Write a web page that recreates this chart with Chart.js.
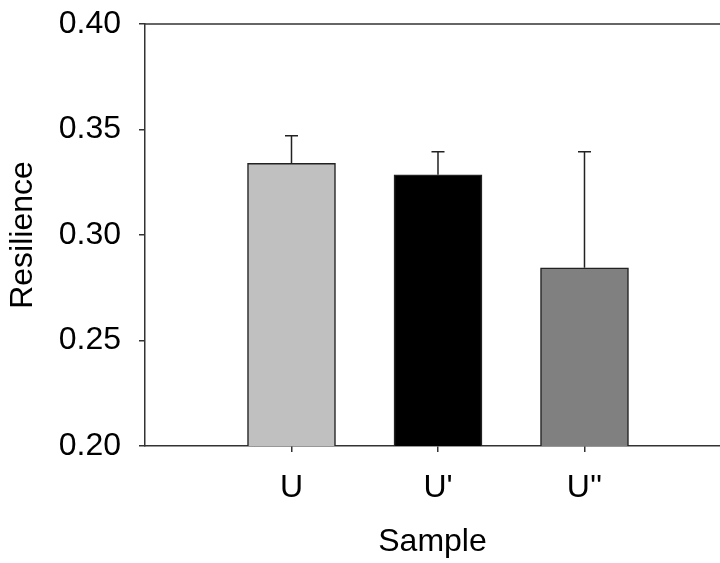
<!DOCTYPE html>
<html>
<head>
<meta charset="utf-8">
<script src="https://cdn.jsdelivr.net/npm/chart.js@4"></script>
<style>
  body { margin: 0; background: #fff; }
  #wrap { width: 720px; height: 563px; }
</style>
</head>
<body>
<div id="wrap"><canvas id="resChart" width="720" height="563"></canvas></div>
<script>
const categories = ['U', "U'", "U''"];
const positions = [1, 2, 3];
const resilience = [0.334, 0.3285, 0.2845];
const errors = [0.013, 0.011, 0.055];
const barColors = ['#c0c0c0', '#000000', '#808080'];
const yTicks = [0.20, 0.25, 0.30, 0.35, 0.40];

const ctx = document.getElementById('resChart');
const fontFamily = 'Arial, "Liberation Sans", sans-serif';

// vertical error bars (upper only)
const errorBars = {
    id: 'errorBars',
    afterDatasetsDraw(chart) {
        const c = chart.ctx;
        const y = chart.scales.y;
        const meta = chart.getDatasetMeta(0);
        c.save();
        c.strokeStyle = '#222';
        c.lineWidth = 1.5;
        meta.data.forEach(function (bar, i) {
            const top = y.getPixelForValue(resilience[i] + errors[i]);
            c.beginPath();
            c.moveTo(bar.x, bar.y);
            c.lineTo(bar.x, top);
            c.moveTo(bar.x - 6.5, top);
            c.lineTo(bar.x + 6.5, top);
            c.stroke();
        });
        c.restore();
    }
};

// top frame line
const topLine = {
    id: 'topLine',
    afterDraw(chart) {
        const a = chart.chartArea;
        const c = chart.ctx;
        c.save();
        c.strokeStyle = '#333';
        c.lineWidth = 1.5;
        c.beginPath();
        c.moveTo(a.left, a.top);
        c.lineTo(a.right, a.top);
        c.stroke();
        c.restore();
    }
};

const data = {
    datasets: [{
        label: 'Resilience',
        data: positions.map(function (p, i) { return { x: p, y: resilience[i] }; }),
        backgroundColor: barColors,
        borderColor: '#222',
        borderWidth: 1.5,
        borderSkipped: false,
        barThickness: 88
    }]
};

const config = {
    type: 'bar',
    data: data,
    options: {
        responsive: false,
        animation: false,
        layout: { padding: { top: 24, right: 0, left: 0, bottom: 0 } },
        plugins: {
            legend: { display: false },
            tooltip: { enabled: false }
        },
        scales: {
            x: {
                type: 'linear',
                min: 0,
                max: 3.925,
                offset: false,
                afterBuildTicks: function (axis) {
                    axis.ticks = positions.map(function (p) { return { value: p }; });
                },
                afterFit: function (axis) {
                    axis.height = 117;
                    axis.paddingLeft = 0;
                    axis.paddingRight = 0;
                },
                grid: { offset: false, drawOnChartArea: false, tickLength: 6, color: '#333', lineWidth: 1.5 },
                border: { color: '#333', width: 1.5 },
                ticks: {
                    color: '#000',
                    font: { family: fontFamily, size: 32 },
                    padding: 17,
                    maxRotation: 0,
                    callback: function (v) { return categories[positions.indexOf(v)]; }
                },
                title: {
                    display: true,
                    text: 'Sample',
                    color: '#000',
                    font: { family: fontFamily, size: 32 },
                    padding: { top: 6, bottom: 2 }
                }
            },
            y: {
                min: 0.2,
                max: 0.4,
                afterBuildTicks: function (axis) {
                    axis.ticks = yTicks.map(function (v) { return { value: v }; });
                },
                afterFit: function (axis) {
                    axis.width = 145;
                    axis.paddingTop = 0;
                    axis.paddingBottom = 0;
                },
                grid: { drawOnChartArea: false, tickLength: 6, color: '#333', lineWidth: 1.5 },
                border: { color: '#333', width: 1.5 },
                ticks: {
                    color: '#000',
                    font: { family: fontFamily, size: 32 },
                    padding: 18,
                    callback: function (v) { return v.toFixed(2); }
                },
                title: {
                    display: true,
                    text: 'Resilience',
                    color: '#000',
                    font: { family: fontFamily, size: 32 },
                    padding: { bottom: 0 }
                }
            }
        }
    },
    plugins: [errorBars, topLine]
};

const resChart = new Chart(ctx, config);
</script>
</body>
</html>
